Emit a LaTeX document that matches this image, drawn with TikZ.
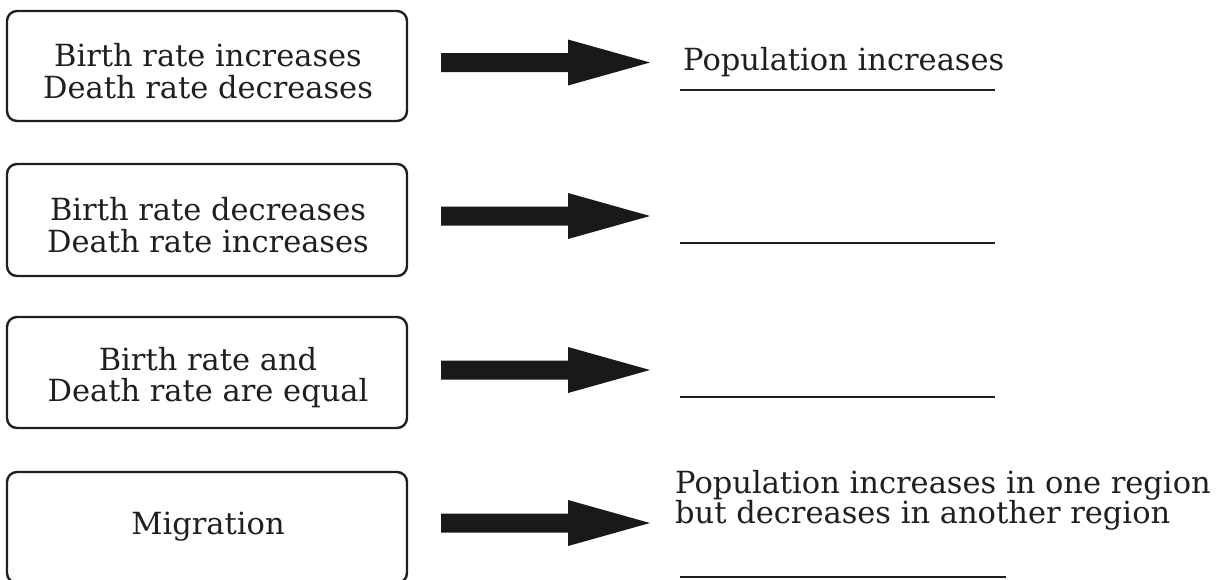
\documentclass[tikz,border=0pt]{standalone}
\usepackage{fontspec}
\setmainfont{DejaVu Serif}
\begin{document}
\begin{tikzpicture}[x=1pt,y=-1pt,
  causebox/.style={draw=black!88, line width=2.4pt, rounded corners=10pt},
  boxtext/.style={align=center, font=\fontsize{30.5}{31.5}\selectfont, text=black!88},
  resulttext/.style={anchor=base west, align=left, inner sep=0pt, font=\fontsize{30.5}{30}\selectfont, text=black!88},
  blank/.style={line width=2.2pt, draw=black!88},
  blockarrow/.style={fill=black!90}]
\useasboundingbox (0,0) rectangle (1218,579);
\clip (0,0) rectangle (1218,579);

% cause boxes: top and bottom edges
\foreach \n/\t/\b in {1/11/121, 2/164/276, 3/317/428, 4/472/583}{
  \draw[causebox] (7,\t) rectangle (407,\b);
  \coordinate (c\n) at (208,{(\t+\b)/2+5});
}

\node[boxtext] (b1) at (c1) {Birth rate increases\\Death rate decreases};
\node[boxtext] (b2) at (c2) {Birth rate decreases\\Death rate increases};
\node[boxtext] (b3) at (c3) {Birth rate and\\Death rate are equal};
\node[boxtext] (b4) at ([yshift=6pt]c4) {Migration};

% block arrows (tip y per row)
\foreach \n/\y in {1/62.5, 2/216, 3/370, 4/523}{
  \coordinate (a\n) at (441,\y);
  \fill[blockarrow] (441,\y-9.5) -- (568,\y-9.5) -- (568,\y-23) -- (650,\y)
     -- (568,\y+23) -- (568,\y+9.5) -- (441,\y+9.5) -- cycle;
}

% answer lines
\coordinate (l1a) at (680,90);  \coordinate (l1b) at (995,90);
\coordinate (l2a) at (680,243); \coordinate (l2b) at (995,243);
\coordinate (l3a) at (680,397); \coordinate (l3b) at (995,397);
\coordinate (l4a) at (680,577); \coordinate (l4b) at (1006,577);
\foreach \n in {1,2,3,4}{ \draw[blank] (l\n a) -- (l\n b); }

\node[resulttext] (r1) at (683,70) {Population increases};
\node[resulttext] (r4) at (675,523) {Population increases in one region\\but decreases in another region};
\end{tikzpicture}
\end{document}
